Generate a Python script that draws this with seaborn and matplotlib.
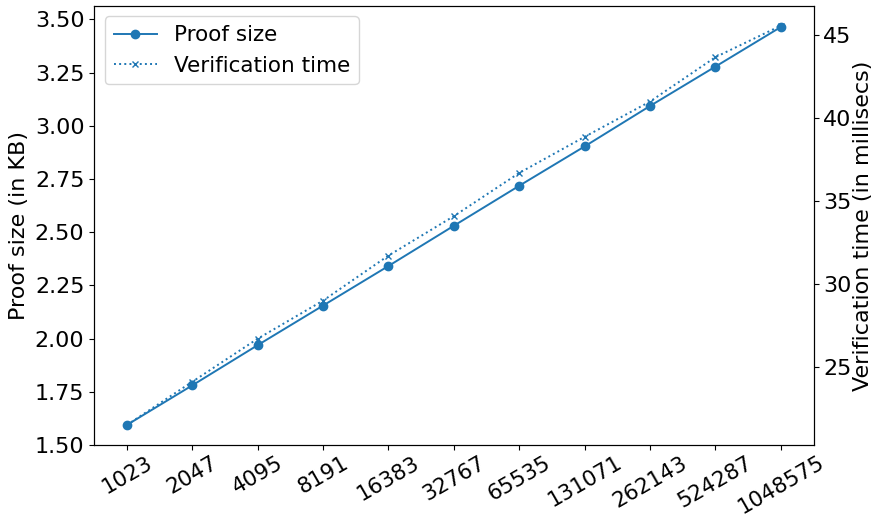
import matplotlib
matplotlib.use("Agg")
import matplotlib.pyplot as plt
import seaborn as sns
import pandas as pd

sizes = ["1023", "2047", "4095", "8191", "16383", "32767", "65535",
         "131071", "262143", "524287", "1048575"]
proof_kb = [1.594, 1.780, 1.969, 2.155, 2.341, 2.530, 2.718, 2.903, 3.093, 3.278, 3.464]
verif_ms = [21.48, 24.09, 26.69, 28.99, 31.71, 34.09, 36.70, 38.88, 41.01, 43.69, 45.59]

df = pd.DataFrame({"pos": list(range(len(sizes))), "proof": proof_kb, "verif": verif_ms})

plt.rcParams["font.family"] = ["DejaVu Sans"]
plt.rcParams["font.size"] = 16

fig, ax = plt.subplots(figsize=(8.72, 5.18), dpi=100)
fig.subplots_adjust(left=0.108, right=0.933, top=0.989, bottom=0.141)
ax2 = ax.twinx()

color = "#1f77b4"
sns.lineplot(data=df, x="pos", y="proof", ax=ax, color=color, marker="o",
             markersize=6, markeredgewidth=1, markeredgecolor=color,
             markerfacecolor=color, linestyle="-", linewidth=1.4,
             legend=False, label="Proof size")
sns.lineplot(data=df, x="pos", y="verif", ax=ax2, color=color, marker="x",
             markersize=5, markeredgewidth=1, markeredgecolor=color,
             linestyle=":", linewidth=1.4,
             legend=False, label="Verification time")

ax.set_ylim(1.50, 3.564)
ax.set_xticks(df["pos"])
ax.set_xticklabels(sizes, rotation=30, fontsize=15.5)
ax.tick_params(axis="x", pad=2)
ax.set_xlabel("")
ax.set_ylabel("Proof size (in KB)", fontsize=16)
ax2.set_ylabel("Verification time (in millisecs)", fontsize=16, labelpad=1)
ax.tick_params(axis="y", labelsize=16)
ax2.tick_params(labelsize=16)

handles = ax.get_lines() + ax2.get_lines()
ax.legend(handles, [h.get_label() for h in handles], loc="upper left", fontsize=15.5)

fig.savefig("out.png", dpi=100)
